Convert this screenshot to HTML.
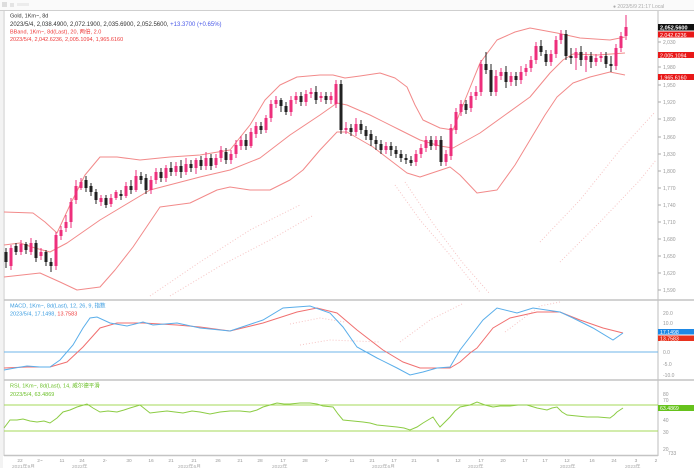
<!DOCTYPE html>
<html><head><meta charset="utf-8"><style>
html,body{margin:0;padding:0;background:#fff;}
svg{display:block;font-family:"Liberation Sans","Noto Sans CJK SC",sans-serif;}
</style></head><body>
<svg width="694" height="468" viewBox="0 0 694 468" xmlns="http://www.w3.org/2000/svg">
<rect x="0" y="0" width="694" height="468" fill="#fff"/>
<!-- top strip -->
<rect x="0" y="0" width="694" height="10" fill="#fafafa"/>
<rect x="2" y="2" width="5" height="5" fill="#ddd"/>
<rect x="10" y="3" width="4" height="4" fill="#e4e4e4"/>
<rect x="17" y="3" width="12" height="3" fill="#ececec"/>
<text x="613" y="8" font-size="5" fill="#aaa">● 2023/5/9 21:17 Local</text>
<line x1="0" y1="10.5" x2="694" y2="10.5" stroke="#cfcfcf" stroke-width="1"/>
<!-- left border -->
<rect x="0" y="11" width="3" height="457" fill="#f3f3f3"/>
<line x1="4" y1="11" x2="4" y2="456" stroke="#c8c8c8" stroke-width="1"/>
<!-- right axis line -->
<line x1="658" y1="11" x2="658" y2="456" stroke="#bdbdbd" stroke-width="1"/>
<!-- panel separators -->
<line x1="4" y1="300" x2="694" y2="300" stroke="#c4c4c4" stroke-width="1.5"/>
<line x1="4" y1="380" x2="694" y2="380" stroke="#c4c4c4" stroke-width="1.5"/>
<line x1="4" y1="455.5" x2="658" y2="455.5" stroke="#c4c4c4" stroke-width="1.5"/>

<!-- faint dotted watermark strands -->
<g fill="none" stroke="#f6c4c4" stroke-width="1" stroke-dasharray="1 2">
<polyline points="150,296 200,262 250,230 300,205"/>
<polyline points="170,296 220,266 270,240 312,216"/>
<polyline points="395,185 420,220 450,255 480,292"/>
<polyline points="405,182 432,222 462,262 490,294"/>
<polyline points="540,242 580,200 620,150 655,112"/>
<polyline points="560,262 600,222 640,180 656,160"/>
<polyline points="290,324 320,318 345,322"/>
<polyline points="400,342 430,320 462,304"/>
<polyline points="505,332 540,306 560,302"/>
<polyline points="300,345 330,340 380,342"/>
</g>

<!-- Legend main -->
<text x="10" y="17.5" font-size="5.5" fill="#333">Gold, 1Km~, 8d</text>
<text x="10" y="26" font-size="6" fill="#333">2023/5/4, 2,038.4900, 2,072.1900, 2,035.6900, 2,052.5600, <tspan fill="#4a5ae8">+13.3700 (+0.65%)</tspan></text>
<text x="10" y="33.5" font-size="5.5" fill="#ee3a3a">BBand, 1Km~, 8d(Last), 20, 两倍, 2.0</text>
<text x="10" y="41" font-size="5.5" fill="#ee3a3a">2023/5/4, 2,042.6236, 2,005.1094, 1,965.6160</text>

<!-- Bollinger bands -->
<g fill="none" stroke="#f28a8a" stroke-width="1" stroke-linejoin="round">
<polyline points="4,212 33,213 45,222 57,233 70,205 85,175 100,157 117,157 140,160 170,157 200,155 230,150 250,125 265,100 280,85 297,77 320,75 333,75 345,78 360,76 380,73 395,78 407,87 415,105 423,120 440,128 453,130 465,100 480,63 497,40 515,32 530,28 557,33 580,38 610,40 625,37"/>
<polyline points="4,245 20,243 35,248 50,252 67,243 100,220 150,190 200,177 230,170 260,158 290,135 320,115 337,103 347,105 370,115 400,130 420,140 440,146 453,148 480,133 505,115 530,97 550,73 563,60 573,54 597,55 625,53"/>
<polyline points="4,277 40,273 60,282 77,290 100,287 115,270 133,247 160,207 190,203 217,190 230,187 250,190 270,190 290,180 303,170 320,150 337,132 347,132 373,147 390,160 407,173 420,177 435,172 450,167 460,175 477,193 497,190 515,165 530,140 545,115 557,97 573,83 590,77 610,72 625,75"/>
</g>

<!-- Candles pink -->
<path fill="none" stroke="#ee2f7c" stroke-width="1" d="M11 245V270M21 240V255M31 238V255M41 248V260M56 232V270M61 226V240M66 215V232M71 198V228M76 180V204M81 178V190M101 195V206M111 194V207M116 190V200M126 182V198M136 170V192M151 176V194M156 168V184M166 165V182M176 162V176M186 158V175M196 158V174M206 152V170M216 154V168M221 146V162M231 150V164M236 140V158M241 136V150M251 128V148M256 122V138M266 115V133M271 100V122M276 96V108M291 96V116M296 92V104M306 90V106M311 88V98M321 92V102M331 92V104M336 80V108M346 122V134M356 118V136M386 142V154M416 150V166M421 144V158M426 136V152M436 136V150M446 150V166M451 124V160M456 108V134M461 100V116M471 92V112M476 86V100M481 60V96M496 70V96M501 68V80M511 72V86M521 66V84M526 64V76M531 56V72M536 42V64M551 50V66M556 36V58M561 30V44M576 48V70M586 52V72M596 54V66M601 52V62M616 44V70M621 32V52M626 15V40"/>
<path fill="#ee2f7c" d="M9.5 248h3v18h-3zM19.5 244h3v8h-3zM29.5 243h3v9h-3zM39.5 252h3v4h-3zM54.5 235h3v31h-3zM59.5 230h3v6h-3zM64.5 222h3v6h-3zM69.5 202h3v20h-3zM74.5 186h3v14h-3zM79.5 182h3v6h-3zM99.5 198h3v4h-3zM109.5 198h3v6h-3zM114.5 192h3v6h-3zM124.5 186h3v10h-3zM134.5 176h3v14h-3zM149.5 180h3v10h-3zM154.5 172h3v8h-3zM164.5 168h3v10h-3zM174.5 166h3v6h-3zM184.5 164h3v8h-3zM194.5 160h3v8h-3zM204.5 158h3v8h-3zM214.5 158h3v7h-3zM219.5 150h3v8h-3zM229.5 154h3v6h-3zM234.5 145h3v9h-3zM239.5 140h3v6h-3zM249.5 132h3v14h-3zM254.5 126h3v8h-3zM264.5 118h3v12h-3zM269.5 104h3v14h-3zM274.5 100h3v4h-3zM289.5 100h3v12h-3zM294.5 96h3v4h-3zM304.5 94h3v8h-3zM309.5 92h3v2h-3zM319.5 96h3v2h-3zM329.5 96h3v4h-3zM334.5 84h3v20h-3zM344.5 128h3v2h-3zM354.5 124h3v8h-3zM384.5 146h3v4h-3zM414.5 154h3v8h-3zM419.5 148h3v6h-3zM424.5 140h3v8h-3zM434.5 140h3v6h-3zM444.5 154h3v8h-3zM449.5 128h3v28h-3zM454.5 112h3v18h-3zM459.5 104h3v8h-3zM469.5 96h3v12h-3zM474.5 92h3v4h-3zM479.5 64h3v28h-3zM494.5 76h3v16h-3zM499.5 72h3v4h-3zM509.5 76h3v6h-3zM519.5 72h3v8h-3zM524.5 68h3v4h-3zM529.5 60h3v8h-3zM534.5 46h3v14h-3zM549.5 54h3v8h-3zM554.5 40h3v14h-3zM559.5 34h3v6h-3zM574.5 52h3v6h-3zM584.5 56h3v4h-3zM594.5 58h3v4h-3zM599.5 56h3v2h-3zM614.5 48h3v18h-3zM619.5 36h3v12h-3zM624.5 27h3v9h-3z"/>

<!-- Candles black -->
<path fill="none" stroke="#222" stroke-width="1" d="M6 248V268M16 243V255M26 242V254M36 240V262M46 250V266M51 258V272M86 176V192M91 183V196M96 189V204M106 195V208M121 190V200M131 180V194M141 172V184M146 174V194M161 168V182M171 162V176M181 160V178M191 160V172M201 156V170M211 154V170M226 148V164M246 134V150M261 122V134M281 98V112M286 102V115M301 92V106M316 86V104M326 92V104M341 80V134M351 124V136M361 120V134M366 126V140M371 130V146M376 136V150M381 140V154M391 142V156M396 146V158M401 150V162M406 154V164M411 156V166M431 136V150M441 136V166M466 100V114M486 52V74M491 64V96M506 66V88M516 72V86M541 40V56M546 50V66M566 30V60M571 48V64M581 46V66M591 52V68M606 52V68M611 56V72"/>
<path fill="#222" d="M4.5 252h3v10h-3zM14.5 246h3v6h-3zM24.5 244h3v6h-3zM34.5 243h3v15h-3zM44.5 252h3v10h-3zM49.5 262h3v4h-3zM84.5 180h3v8h-3zM89.5 186h3v6h-3zM94.5 192h3v8h-3zM104.5 198h3v7h-3zM119.5 194h3v2h-3zM129.5 186h3v4h-3zM139.5 176h3v4h-3zM144.5 178h3v12h-3zM159.5 172h3v6h-3zM169.5 168h3v4h-3zM179.5 166h3v6h-3zM189.5 164h3v4h-3zM199.5 160h3v6h-3zM209.5 158h3v8h-3zM224.5 152h3v8h-3zM244.5 140h3v6h-3zM259.5 126h3v4h-3zM279.5 100h3v6h-3zM284.5 106h3v6h-3zM299.5 96h3v6h-3zM314.5 92h3v8h-3zM324.5 96h3v4h-3zM339.5 84h3v46h-3zM349.5 128h3v4h-3zM359.5 124h3v6h-3zM364.5 130h3v6h-3zM369.5 134h3v6h-3zM374.5 140h3v4h-3zM379.5 144h3v6h-3zM389.5 146h3v4h-3zM394.5 150h3v4h-3zM399.5 154h3v4h-3zM404.5 158h3v2h-3zM409.5 160h3v3h-3zM429.5 140h3v6h-3zM439.5 140h3v22h-3zM464.5 104h3v6h-3zM484.5 64h3v6h-3zM489.5 70h3v22h-3zM504.5 72h3v10h-3zM514.5 76h3v4h-3zM539.5 46h3v6h-3zM544.5 54h3v8h-3zM564.5 34h3v22h-3zM569.5 56h3v2h-3zM579.5 52h3v8h-3zM589.5 56h3v6h-3zM604.5 56h3v8h-3zM609.5 64h3v2h-3z"/>

<!-- Right axis main -->
<g font-size="5" fill="#999">
<text x="663" y="44">2,030</text>
<text x="663" y="69">1,980</text>
<text x="663" y="87">1,950</text>
<text x="663" y="104">1,920</text>
<text x="663" y="121">1,890</text>
<text x="663" y="139">1,860</text>
<text x="663" y="156">1,830</text>
<text x="663" y="173">1,800</text>
<text x="663" y="190">1,770</text>
<text x="663" y="207">1,740</text>
<text x="663" y="224">1,710</text>
<text x="663" y="241">1,680</text>
<text x="663" y="258">1,650</text>
<text x="663" y="275">1,620</text>
<text x="663" y="292">1,590</text>
</g>
<g stroke="#aaa" stroke-width="1">
<path d="M658 42H661M658 67H661M658 85H661M658 102H661M658 119H661M658 137H661M658 154H661M658 171H661M658 188H661M658 205H661M658 222H661M658 239H661M658 256H661M658 273H661M658 290H661"/>
</g>
<rect x="658" y="24" width="36" height="6.5" fill="#111"/>
<text x="660" y="29.5" font-size="5.5" fill="#fff" font-weight="bold">2,052.5600</text>
<rect x="658" y="31.5" width="36" height="6" fill="#e81818"/>
<text x="660" y="36.8" font-size="5.3" fill="#fff">2,042.6236</text>
<rect x="658" y="52" width="36" height="6" fill="#e81818"/>
<text x="660" y="57.3" font-size="5.3" fill="#fff">2,005.1094</text>
<rect x="658" y="74" width="36" height="6" fill="#e81818"/>
<text x="660" y="79.3" font-size="5.3" fill="#fff">1,965.6160</text>

<!-- MACD panel -->
<text x="10" y="307.5" font-size="5.5" fill="#3a9ce0">MACD, 1Km~, 8d(Last), 12, 26, 9, 指数</text>
<text x="10" y="315.5" font-size="5.5" fill="#3a9ce0">2023/5/4, 17.1498, <tspan fill="#ee3a3a">13.7583</tspan></text>
<line x1="4" y1="352" x2="658" y2="352" stroke="#6fb6ea" stroke-width="1"/>
<polyline fill="none" stroke="#f07070" stroke-width="1" points="4,368 27,367 50,367 67,362 83,347 100,328 117,323 143,323 177,325 200,327 230,331 263,323 297,312 317,308 337,313 357,330 383,350 403,362 420,368 437,368 450,368 460,362 470,353 477,348 493,328 510,318 537,312 560,312 580,320 603,328 623,333"/>
<polyline fill="none" stroke="#5aaeea" stroke-width="1" points="4,370 15,368 27,366 40,367 50,367 60,360 73,345 83,328 90,318 97,317 110,323 127,326 143,322 153,325 177,323 200,328 230,331 263,320 283,308 310,306 330,313 343,327 357,347 377,358 397,368 410,375 423,372 437,368 450,367 460,350 470,337 473,333 483,320 497,308 517,313 533,308 560,312 573,318 593,328 613,340 623,333"/>
<g font-size="5" fill="#999">
<text x="663" y="315">20.0</text>
<text x="663" y="325">10.0</text>
<text x="663" y="354">0.0</text>
<text x="663" y="366">-5.0</text>
<text x="663" y="377">-10.0</text>
</g>
<rect x="658" y="329" width="36" height="5.5" fill="#1e88e5"/>
<text x="660" y="333.8" font-size="5.2" fill="#fff">17.1498</text>
<rect x="658" y="335.5" width="36" height="5.5" fill="#e8321e"/>
<text x="660" y="340.3" font-size="5.2" fill="#fff">13.7583</text>

<!-- RSI panel -->
<text x="10" y="387.5" font-size="5.5" fill="#6cc02a">RSI, 1Km~, 8d(Last), 14, 威尔德平滑</text>
<text x="10" y="396" font-size="5.5" fill="#6cc02a">2023/5/4, 63.4869</text>
<line x1="4" y1="405" x2="658" y2="405" stroke="#a6d85a" stroke-width="1"/>
<line x1="4" y1="431" x2="658" y2="431" stroke="#a6d85a" stroke-width="1"/>
<polyline fill="none" stroke="#8ccc44" stroke-width="1" points="4,428 10,420 17,420 23,419 30,421 37,422 44,421 50,423 57,418 63,412 70,410 77,407 87,404 93,408 100,412 108,411 117,412 124,410 130,408 140,405 145,409 150,413 158,412 167,411 175,412 183,413 192,411 200,412 210,414 220,412 230,411 240,411 250,412 257,410 263,407 270,405 277,403 284,404 290,404 300,403 310,403 317,404 323,406 333,407 338,414 343,420 353,421 363,422 370,423 377,425 387,426 397,427 404,428 410,430 417,427 423,423 428,420 433,417 437,423 440,427 445,422 450,417 455,411 460,407 465,406 470,405 477,402 485,405 493,407 500,406 510,406 518,405 527,405 537,408 547,410 552,408 557,407 562,412 567,415 577,416 587,417 598,417 610,418 614,415 617,412 620,410 623,408"/>
<g font-size="5" fill="#999">
<text x="663" y="396">80</text>
<text x="663" y="402">70</text>
<text x="663" y="422">40</text>
<text x="663" y="434">30</text>
<text x="663" y="451">20</text>
</g>
<rect x="658" y="405" width="36" height="6" fill="#66c21c"/>
<text x="660" y="410" font-size="5.2" fill="#fff">63.4869</text>

<!-- time axis -->
<g font-size="4.8" fill="#999" text-anchor="middle">
<text x="20" y="462">22</text><text x="40" y="462">2~</text><text x="62" y="462">11</text><text x="82" y="462">24</text>
<text x="105" y="462">2-</text><text x="129" y="462">30</text><text x="151" y="462">16</text><text x="171" y="462">21</text>
<text x="194" y="462">21</text><text x="218" y="462">26</text><text x="240" y="462">21</text><text x="260" y="462">28</text>
<text x="283" y="462">17</text><text x="305" y="462">28</text><text x="327" y="462">2-</text><text x="352" y="462">11</text>
<text x="372" y="462">21</text><text x="394" y="462">17</text><text x="414" y="462">21</text><text x="438" y="462">6</text>
<text x="458" y="462">12</text><text x="481" y="462">17</text><text x="503" y="462">20</text><text x="525" y="462">17</text>
<text x="545" y="462">17</text><text x="567" y="462">12</text><text x="592" y="462">16</text><text x="614" y="462">24</text>
<text x="636" y="462">3</text><text x="656" y="462">2</text>
</g>
<g font-size="4.8" fill="#aaa">
<text x="12" y="468">2021年9月</text><text x="72" y="468">2022年</text><text x="178" y="468">2022年6月</text>
<text x="272" y="468">2022年</text><text x="372" y="468">2022年6月</text><text x="468" y="468">2022年</text>
<text x="560" y="468">2023年</text><text x="625" y="468">2023年</text>
</g>
<text x="668" y="455" font-size="5" fill="#999">733</text>
</svg>
</body></html>
